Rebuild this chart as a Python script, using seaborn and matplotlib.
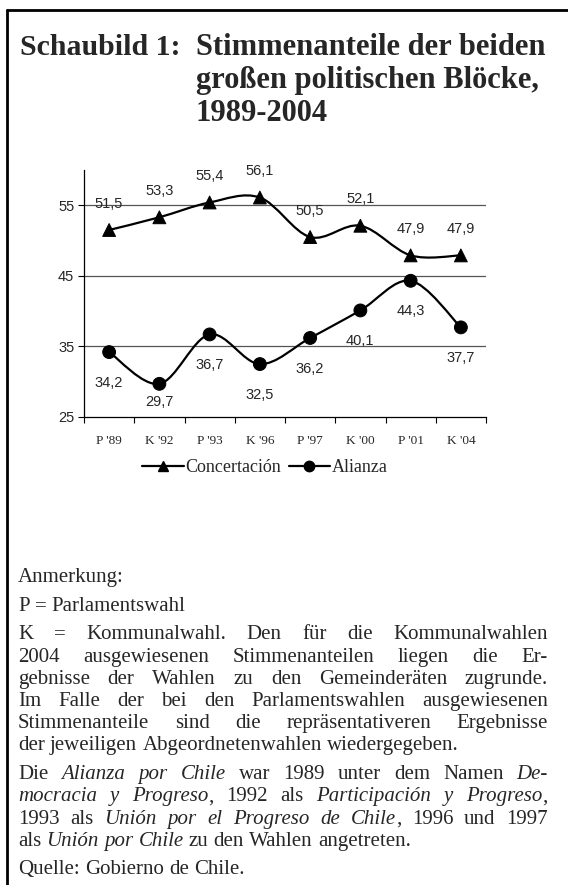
import numpy as np
import pandas as pd
import seaborn as sns
import matplotlib.pyplot as plt
from matplotlib.path import Path
from matplotlib.patches import PathPatch
from matplotlib.lines import Line2D

# Daten: Stimmenanteile der beiden Blöcke
wahlen = ["P '89", "K '92", "P '93", "K '96", "P '97", "K '00", "P '01", "K '04"]
concertacion = [51.5, 53.3, 55.4, 56.1, 50.5, 52.1, 47.9, 47.9]
alianza = [34.2, 29.7, 36.7, 32.5, 36.2, 40.1, 44.3, 37.7]
bloecke = ["Concertación", "Alianza"]

titel_links = "Schaubild 1:"
titel = ["Stimmenanteile der beiden", "großen politischen Blöcke,", "1989-2004"]

# *...* = kursiv
absaetze = [
    ["Anmerkung:"],
    ["P = Parlamentswahl"],
    ["K = Kommunalwahl. Den für die Kommunalwahlen",
     "2004 ausgewiesenen Stimmenanteilen liegen die Er-",
     "gebnisse der Wahlen zu den Gemeinderäten zugrunde.",
     "Im Falle der bei den Parlamentswahlen ausgewiesenen",
     "Stimmenanteile sind die repräsentativeren Ergebnisse",
     "der jeweiligen Abgeordnetenwahlen wiedergegeben."],
    ["Die *Alianza por Chile* war 1989 unter dem Namen *De-*",
     "*mocracia y Progreso*, 1992 als *Participación y Progreso*,",
     "1993 als *Unión por el Progreso de Chile*, 1996 und 1997",
     "als *Unión por Chile* zu den Wahlen angetreten."],
    ["Quelle: Gobierno de Chile."],
]

W, H = 568, 885
sns.set_theme(style="ticks")
plt.rcParams["font.family"] = ["Liberation Serif", "DejaVu Serif"]

fig = plt.figure(figsize=(W / 100, H / 100), dpi=100)
fig.patch.set_facecolor("white")


def fx(px):
    return px / W


def fy(py):
    return 1 - py / H


# Rahmen (oben und links)
fig.add_artist(Line2D([fx(7), 1], [fy(10), fy(10)], transform=fig.transFigure, color="black", lw=2))
fig.add_artist(Line2D([fx(7), fx(7)], [fy(10), 0], transform=fig.transFigure, color="black", lw=2))

# Titel
fig.text(fx(20), fy(55), titel_links, fontsize=21.5, fontweight="bold", va="baseline")
for i, zeile in enumerate(titel):
    fig.text(fx(196), fy(55 + 33 * i), zeile, fontsize=22, fontweight="bold", va="baseline")

# Diagramm
ax = fig.add_axes([fx(84), fy(417), fx(486) - fx(84), fy(170) - fy(417)])
df = pd.DataFrame({
    "Wahl": wahlen * 2,
    "Anteil": concertacion + alianza,
    "Block": [bloecke[0]] * len(wahlen) + [bloecke[1]] * len(wahlen),
})
sns.scatterplot(data=df, x="Wahl", y="Anteil", style="Block",
                markers={bloecke[0]: "^", bloecke[1]: "o"}, color="black",
                edgecolor="black", s=85, legend=False, zorder=4, ax=ax)


def glatt(ys):
    # geglättete Linie wie in Excel (Bezier durch die Punkte)
    pts = np.column_stack([np.arange(len(ys)), ys]).astype(float)
    verts, codes = [pts[0]], [Path.MOVETO]
    n = len(pts)
    for i in range(n - 1):
        p0 = pts[i - 1] if i > 0 else pts[i]
        p3 = pts[i + 2] if i + 2 < n else pts[i + 1]
        verts += [pts[i] + (pts[i + 1] - p0) / 6, pts[i + 1] - (p3 - pts[i]) / 6, pts[i + 1]]
        codes += [Path.CURVE4] * 3
    return Path(verts, codes)


for werte in (concertacion, alianza):
    ax.add_patch(PathPatch(glatt(werte), facecolor="none", edgecolor="black", lw=1.6, zorder=3))

for v in [35, 45, 55]:
    ax.axhline(v, color="#555555", lw=0.9, zorder=1)

sans = {"fontfamily": "Liberation Sans", "fontsize": 10.5}
for i, v in enumerate(concertacion):
    ax.annotate(f"{v:.1f}".replace(".", ","), (i, v), xytext=(0, 19),
                textcoords="offset points", ha="center", va="center", **sans)
for i, v in enumerate(alianza):
    dy = -13 if v - 25 < 6 else -22
    ax.annotate(f"{v:.1f}".replace(".", ","), (i, v), xytext=(0, dy),
                textcoords="offset points", ha="center", va="center", **sans)

ax.set_xlim(-0.5, len(wahlen) - 0.5)
ax.set_ylim(25, 60)
ax.set_yticks([25, 35, 45, 55])
ax.set_yticklabels(["25", "35", "45", "55"], **sans)
ax.set_xticks(range(len(wahlen)))
ax.set_xticklabels(wahlen, fontsize=9.5)
ax.set_xticks(np.arange(-0.5, len(wahlen)), minor=True)
ax.tick_params(axis="x", which="major", length=0, pad=13)
ax.tick_params(axis="x", which="minor", length=4, width=0.8, direction="out", color="black")
ax.tick_params(axis="y", length=4, width=0.8, direction="out", color="black", pad=3)
ax.set_xlabel("")
ax.set_ylabel("")
for s in ["top", "right"]:
    ax.spines[s].set_visible(False)
for s in ["left", "bottom"]:
    ax.spines[s].set_color("black")
    ax.spines[s].set_linewidth(0.9)
ax.set_facecolor("white")

handles = [Line2D([], [], color="black", marker=m, markersize=7.5, lw=1.6) for m in ["^", "o"]]
fig.legend(handles, bloecke, loc="center", bbox_to_anchor=(fx(265), fy(468)), ncol=2,
           frameon=False, prop={"family": "Liberation Serif", "size": 13},
           handlelength=2.3, handletextpad=0.1, columnspacing=0.4)

# Anmerkungen (Blocksatz)
groesse = 15
renderer = fig.canvas.get_renderer()
links, rechts = 18, 548


def zeile_zeichnen(text, y, blocksatz):
    woerter, kursiv = [], False
    for wort in text.split(" "):
        runs = []
        for k, teil in enumerate(wort.split("*")):
            if k > 0:
                kursiv = not kursiv
            if teil:
                runs.append((teil, kursiv))
        woerter.append(runs)
    gemessen = []
    for runs in woerter:
        arts, breite = [], 0
        for teil, kur in runs:
            t = fig.text(0, fy(y), teil, fontsize=groesse, va="baseline",
                         fontstyle="italic" if kur else "normal")
            b = t.get_window_extent(renderer=renderer).width
            arts.append((t, b))
            breite += b
        gemessen.append((arts, breite))
    gesamt = sum(b for _, b in gemessen)
    normal = 0.25 * groesse * 100 / 72
    luecke = normal
    if blocksatz and len(gemessen) > 1:
        luecke = max((rechts - links - gesamt) / (len(gemessen) - 1), 0.6 * normal)
    x = links
    for arts, breite in gemessen:
        for t, b in arts:
            t.set_x(fx(x))
            x += b
        x += luecke


y = 582
for absatz in absaetze:
    for j, zeile in enumerate(absatz):
        zeile_zeichnen(zeile, y, j < len(absatz) - 1)
        y += 22.2
    y += 6.5

fig.savefig("out.png", dpi=100)
